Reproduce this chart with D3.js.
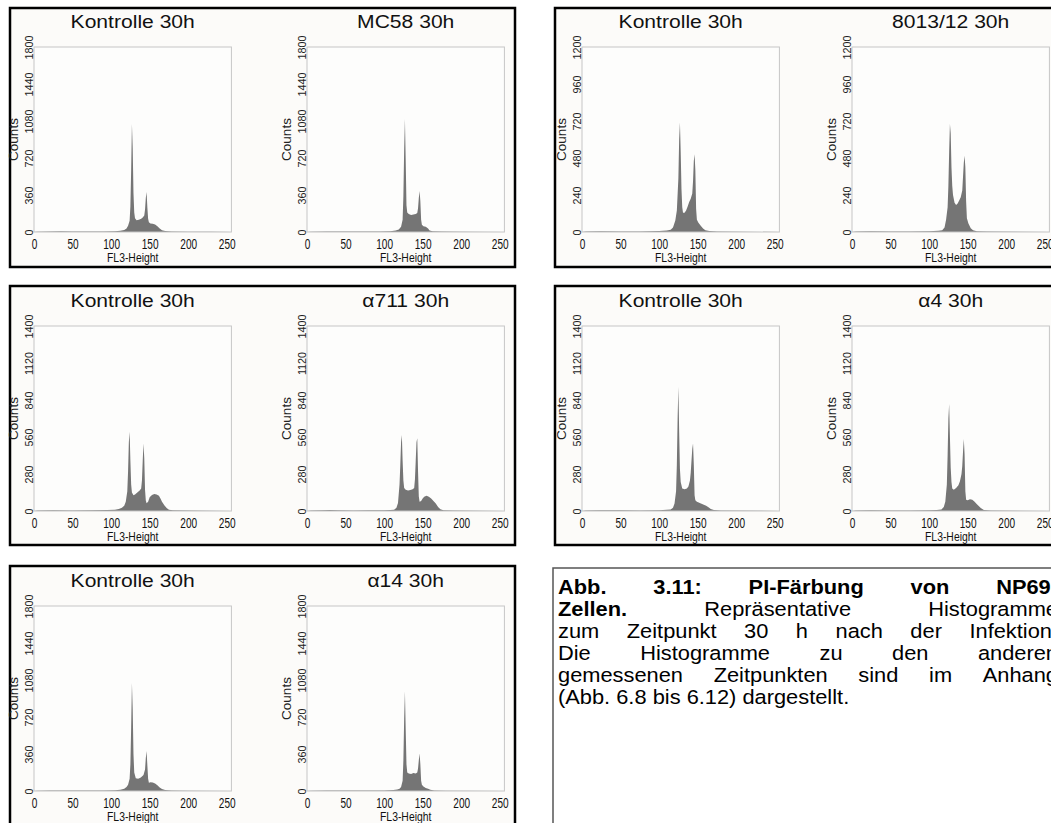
<!DOCTYPE html>
<html>
<head>
<meta charset="utf-8">
<script src="https://cdn.jsdelivr.net/npm/d3@7"></script>
<style>
  body { margin: 0; background: #fff; overflow: hidden; }
  text { font-family: Arial, "Liberation Sans", sans-serif; }
</style>
</head>
<body>
<svg id="svg" width="1051" height="823"></svg>
<script>
// histogram readings: [channel, counts]
const kontrolle1 = [[0,0],[4,3],[20,5],[35,7],[50,4],[70,5],[90,6],[105,8],[112,12],[117,20],[120,35],[122,60],[124,110],[125,250],[126,600],[127,1050],[128,820],[129,380],[130,190],[131,135],[133,115],[136,118],[139,128],[141,140],[143,160],[144,220],[145,330],[146,390],[147,240],[148,130],[149,95],[151,82],[154,80],[157,72],[160,55],[163,35],[166,18],[170,9],[178,5],[200,3],[230,2],[256,0]];
const mc58 = [[0,0],[5,3],[25,5],[50,4],[75,5],[95,6],[108,8],[115,14],[119,25],[122,50],[124,120],[125,350],[126,800],[127,1100],[128,700],[129,260],[130,190],[132,175],[135,165],[138,170],[141,175],[143,185],[144,230],[145,330],[146,400],[147,300],[148,120],[149,70],[151,55],[154,50],[157,35],[159,15],[163,7],[175,4],[200,3],[256,0]];
const kontrolle2 = [[0,0],[5,3],[25,5],[50,4],[75,4],[100,6],[110,10],[115,14],[118,30],[121,75],[123,140],[125,350],[126,600],[127,710],[128,520],[129,280],[130,160],[131,125],[133,125],[135,140],[137,165],[139,195],[141,215],[143,250],[144,330],[145,460],[146,505],[147,400],[148,150],[149,80],[151,60],[154,40],[157,22],[160,12],[165,6],[175,3],[256,0]];
const st8013 = [[0,0],[5,3],[25,5],[50,4],[75,4],[100,5],[112,8],[117,12],[120,30],[122,80],[124,160],[125,300],[126,520],[127,700],[128,640],[129,420],[130,300],[131,240],[133,190],[135,175],[137,185],[139,205],[141,225],[143,270],[144,360],[145,450],[146,495],[147,420],[148,200],[149,90],[151,55],[154,25],[157,12],[162,5],[175,3],[256,0]];
const kontrolle3 = [[0,0],[5,3],[25,5],[50,4],[75,5],[95,7],[105,10],[110,15],[114,25],[117,40],[119,70],[121,150],[122,300],[123,520],[124,600],[125,380],[126,200],[127,140],[129,120],[131,125],[134,140],[137,155],[139,170],[140,230],[141,380],[142,510],[143,400],[144,160],[145,80],[146,58],[148,70],[150,105],[153,122],[156,128],[159,125],[162,115],[164,95],[166,70],[169,43],[172,22],[175,10],[180,5],[200,3],[256,0]];
const alpha711 = [[0,0],[5,3],[20,5],[30,8],[40,5],[60,4],[80,5],[100,6],[108,8],[113,10],[116,25],[118,60],[120,200],[121,350],[122,520],[123,575],[124,380],[125,230],[126,175],[128,160],[131,155],[134,158],[137,165],[139,175],[140,240],[141,380],[142,520],[143,550],[144,300],[145,110],[146,70],[148,75],[150,95],[152,108],[155,115],[158,108],[161,95],[164,75],[167,56],[170,30],[173,14],[177,6],[190,3],[256,0]];
const kontrolle4 = [[0,0],[5,3],[25,6],[50,5],[75,4],[100,6],[110,9],[115,12],[118,25],[120,56],[122,150],[123,350],[124,700],[125,940],[126,600],[127,320],[128,220],[130,170],[133,165],[136,170],[138,185],[140,230],[141,290],[142,380],[143,470],[144,510],[145,350],[146,120],[147,82],[149,70],[152,62],[155,55],[158,48],[161,40],[164,28],[167,16],[171,7],[180,4],[256,0]];
const alpha4 = [[0,0],[5,3],[25,5],[50,4],[75,4],[100,6],[110,8],[116,12],[119,30],[121,70],[123,200],[124,420],[125,700],[126,810],[127,560],[128,330],[129,220],[130,170],[132,160],[135,175],[138,195],[140,225],[142,280],[143,340],[144,450],[145,545],[146,430],[147,150],[148,85],[150,82],[153,88],[156,86],[159,70],[162,52],[164,40],[167,22],[171,8],[180,4],[256,0]];
const kontrolle5 = [[0,0],[5,3],[20,5],[35,6],[50,5],[70,5],[90,6],[105,8],[112,12],[117,22],[120,38],[122,60],[124,120],[125,260],[126,620],[127,1050],[128,800],[129,360],[130,180],[132,123],[135,120],[138,128],[140,140],[142,155],[144,210],[145,320],[146,390],[147,250],[148,120],[149,80],[151,84],[154,82],[157,72],[160,55],[163,35],[166,20],[170,9],[178,5],[200,3],[256,0]];
const alpha14 = [[0,0],[5,3],[25,5],[50,4],[75,5],[100,6],[112,9],[117,14],[120,22],[122,40],[124,100],[125,300],[126,700],[127,970],[128,600],[129,260],[130,180],[132,170],[135,165],[138,175],[141,170],[143,180],[144,220],[145,300],[146,365],[147,260],[148,100],[149,60],[151,45],[154,30],[157,22],[160,12],[165,5],[180,3],[256,0]];

const ticks1800 = [0, 360, 720, 1080, 1440, 1800];
const ticks1200 = [0, 240, 480, 720, 960, 1200];
const ticks1400 = [0, 280, 560, 840, 1120, 1400];
const xTicks = [0, 50, 100, 150, 200, 250];

const titles = ["Kontrolle 30h", "MC58 30h", "Kontrolle 30h", "8013/12 30h",
                "Kontrolle 30h", "\u03b1711 30h", "Kontrolle 30h", "\u03b14 30h",
                "Kontrolle 30h", "\u03b114 30h"];
const series = [kontrolle1, mc58, kontrolle2, st8013, kontrolle3, alpha711, kontrolle4, alpha4, kontrolle5, alpha14];
const yTickSets = [ticks1800, ticks1800, ticks1200, ticks1200, ticks1400, ticks1400, ticks1400, ticks1400, ticks1800, ticks1800];

const captionLines = [
  [["Abb.", 1], ["3.11:", 1], ["PI-F\u00e4rbung", 1], ["von", 1], ["NP69-", 1]],
  [["Zellen.", 1], ["Repr\u00e4sentative", 0], ["Histogramme", 0]],
  [["zum", 0], ["Zeitpunkt", 0], ["30", 0], ["h", 0], ["nach", 0], ["der", 0], ["Infektion.", 0]],
  [["Die", 0], ["Histogramme", 0], ["zu", 0], ["den", 0], ["anderen", 0]],
  [["gemessenen", 0], ["Zeitpunkten", 0], ["sind", 0], ["im", 0], ["Anhang", 0]],
  [["(Abb.", 0], ["6.8", 0], ["bis", 0], ["6.12)", 0], ["dargestellt.", 0]]
];

// layout
const plotW = 197.4, plotH = 185;
const plotLefts = [34, 307, 582, 852];
const plotTops = [47, 326, 606];
const boxTops = [8, 286, 566];
const boxH = 259;

const svg = d3.select("#svg");

// frame boxes
const boxes = [
  {x: 10, y: boxTops[0], w: 505}, {x: 555, y: boxTops[0], w: 507},
  {x: 10, y: boxTops[1], w: 505}, {x: 555, y: boxTops[1], w: 507},
  {x: 10, y: boxTops[2], w: 505}
];
svg.append("g").selectAll("rect").data(boxes).join("rect")
  .attr("x", d => d.x).attr("y", d => d.y)
  .attr("width", d => d.w).attr("height", boxH)
  .attr("fill", "#fcfbf9").attr("stroke", "#000").attr("stroke-width", 2.5);

const x = d3.scaleLinear().domain([0, 256]).range([0, plotW]);

function drawHist(i) {
  const row = Math.floor(i / 4);
  const col = i % 4;
  const yTicks = yTickSets[i];
  const y = d3.scaleLinear().domain([0, yTicks[yTicks.length - 1]]).range([plotH, 0]);
  const g = svg.append("g")
    .attr("transform", `translate(${plotLefts[col]},${plotTops[row]})`);

  g.append("rect").attr("width", plotW).attr("height", plotH)
    .attr("fill", "#fdfdfc");

  const area = d3.area()
    .x(d => x(d[0]))
    .y0(plotH)
    .y1(d => y(d[1]));
  g.append("path").datum(series[i])
    .attr("d", area)
    .attr("fill", "#757575");

  g.append("rect").attr("width", plotW).attr("height", plotH)
    .attr("fill", "none").attr("stroke", "#c6c6c6").attr("stroke-width", 1);

  // x axis
  const xa = g.append("g").attr("transform", `translate(0,${plotH})`)
    .call(d3.axisBottom(x).tickValues(xTicks).tickSize(0).tickPadding(7.5));
  xa.select(".domain").remove();
  xa.selectAll("text")
    .attr("font-size", 14).attr("font-family", "Arial, 'Liberation Sans', sans-serif")
    .attr("fill", "#111").attr("transform", "scale(0.72,1)");

  // y axis, labels rotated
  const ya = g.append("g")
    .call(d3.axisLeft(y).tickValues(yTicks).tickFormat(d3.format("d")).tickSize(0));
  ya.select(".domain").remove();
  ya.selectAll("text")
    .attr("font-size", 10.8).attr("font-family", "Arial, 'Liberation Sans', sans-serif")
    .attr("fill", "#222")
    .attr("text-anchor", "middle")
    .attr("transform", "rotate(-90)")
    .attr("x", 0).attr("y", -0.8).attr("dy", 0);

  g.append("text")
    .attr("transform", `translate(-16,${plotH / 2}) rotate(-90)`)
    .attr("text-anchor", "middle").attr("font-size", 13.5).attr("fill", "#222")
    .text("Counts");

  g.append("text")
    .attr("transform", `translate(${plotW / 2},${plotH + 30}) scale(0.8,1)`)
    .attr("text-anchor", "middle").attr("font-size", 13).attr("fill", "#111")
    .text("FL3-Height");

  g.append("text")
    .attr("transform", `translate(${plotW / 2},-19.4) scale(1.14,1)`)
    .attr("text-anchor", "middle").attr("font-size", 18.5).attr("fill", "#111")
    .text(titles[i]);
}

series.forEach((s, i) => drawHist(i));

// caption box
svg.append("rect")
  .attr("x", 553).attr("y", 568).attr("width", 510).attr("height", 258)
  .attr("fill", "#fff").attr("stroke", "#555").attr("stroke-width", 1.5);

const capX = 558, capRight = 1058, capScale = 1.12, capSize = 19.5;
const capW = (capRight - capX) / capScale;
captionLines.forEach((words, li) => {
  const t = svg.append("text")
    .attr("transform", `translate(${capX},${594 + li * 22}) scale(${capScale},1)`)
    .attr("font-size", capSize).attr("fill", "#000");
  const spans = words.map(w => t.append("tspan")
    .attr("font-weight", w[1] ? "bold" : "normal")
    .text(w[0]));
  const widths = spans.map(s => s.node().getComputedTextLength());
  const total = d3.sum(widths);
  const last = li === captionLines.length - 1;
  const gap = last ? capSize * 0.278 : (capW - total) / (words.length - 1);
  let cx = 0;
  spans.forEach((s, k) => { s.attr("x", cx); cx += widths[k] + gap; });
});
</script>
</body>
</html>
